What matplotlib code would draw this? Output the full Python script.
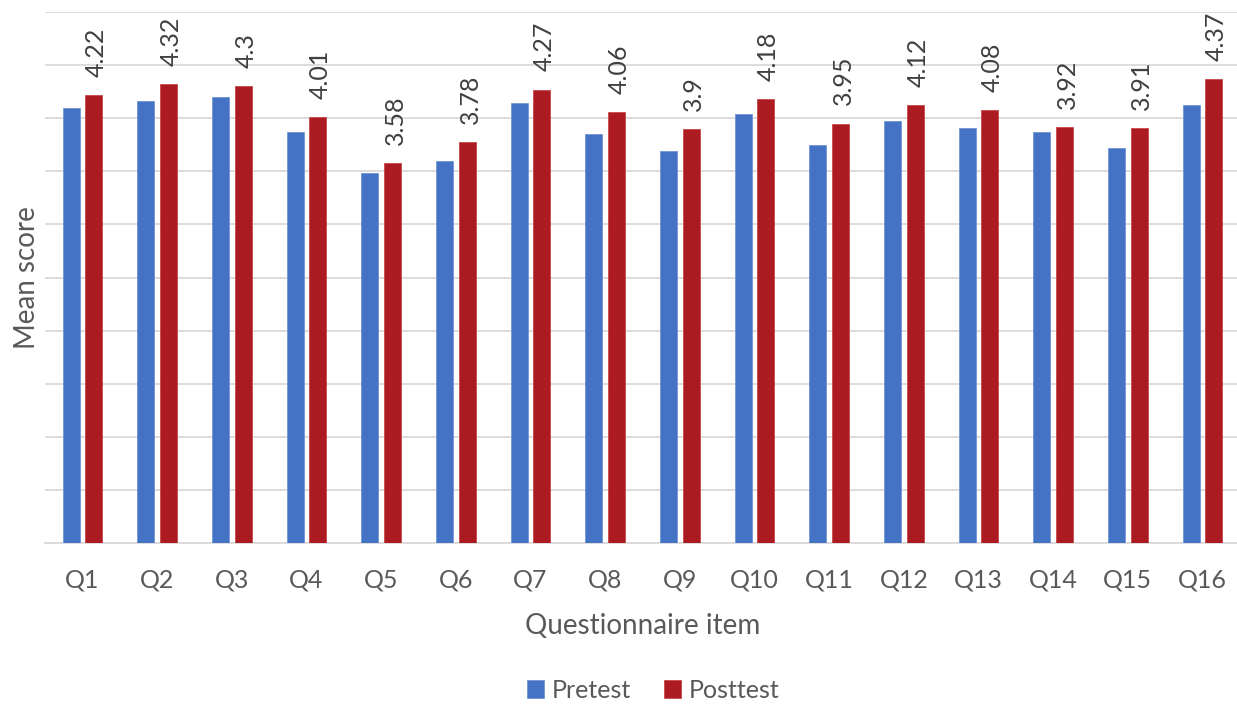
import numpy as np
import matplotlib.pyplot as plt

# ---------- Dados ----------
items = ['Q1', 'Q2', 'Q3', 'Q4', 'Q5', 'Q6', 'Q7', 'Q8',
         'Q9', 'Q10', 'Q11', 'Q12', 'Q13', 'Q14', 'Q15', 'Q16']
pretest = [4.10, 4.16, 4.20, 3.87, 3.48, 3.60, 4.14, 3.85,
           3.69, 4.04, 3.75, 3.97, 3.91, 3.87, 3.72, 4.12]
posttest = [4.22, 4.32, 4.30, 4.01, 3.58, 3.78, 4.27, 4.06,
            3.90, 4.18, 3.95, 4.12, 4.08, 3.92, 3.91, 4.37]
post_labels = ['4.22', '4.32', '4.3', '4.01', '3.58', '3.78', '4.27', '4.06',
               '3.9', '4.18', '3.95', '4.12', '4.08', '3.92', '3.91', '4.37']

# ---------- Estilo ----------
plt.rcParams['font.family'] = ['Lato', 'DejaVu Sans']
txt = '#595959'
blue = '#4472C4'
red = '#AD1B22'

fig = plt.figure(figsize=(12.37, 7.04), dpi=100)
ax = fig.add_axes([45.2 / 1237, 161 / 704, (1239.8 - 45.2) / 1237, 531 / 704])

x = np.arange(len(items))
w = 0.225
off = 0.152
ax.bar(x - off, pretest, w, color=blue, edgecolor='#6f93d6', linewidth=0.6, zorder=3, label='Pretest')
bars = ax.bar(x + off, posttest, w, color=red, edgecolor='#c9474d', linewidth=0.6, zorder=3, label='Posttest')

# rótulos dos valores (pós-teste)
for b, lab in zip(bars, post_labels):
    ax.annotate(lab, (b.get_x() + b.get_width() / 2, b.get_height()),
                xytext=(2, 13), textcoords='offset points',
                rotation=90, ha='center', va='bottom', fontsize=18, color='#404040')

ax.set_xlim(-0.5, len(items) - 0.5)
ax.set_ylim(0, 5)
ax.set_yticks(np.arange(0, 5.01, 0.5))
ax.yaxis.grid(True, color='#d9d9d9', linewidth=1.3, zorder=0)
ax.tick_params(axis='y', left=False, labelleft=False)
ax.tick_params(axis='x', bottom=False, labelsize=18, labelcolor=txt, pad=15)
ax.set_xticks(x)
ax.set_xticklabels(items)
for s in ['top', 'right', 'left']:
    ax.spines[s].set_visible(False)
ax.spines['bottom'].set_color('#d9d9d9')
ax.spines['bottom'].set_linewidth(1.3)

ax.set_xlabel('Questionnaire item', fontsize=20, color=txt, labelpad=15)
ax.set_ylabel('Mean score', fontsize=20, color=txt, labelpad=4)

ax.legend(loc='center', bbox_to_anchor=(653 / 1237, 14 / 704), bbox_transform=fig.transFigure,
          ncol=2, frameon=False, fontsize=18, labelcolor=txt,
          handlelength=0.7, handleheight=0.7, handletextpad=0.3, columnspacing=1.3)

fig.savefig('out.png', dpi=100)
